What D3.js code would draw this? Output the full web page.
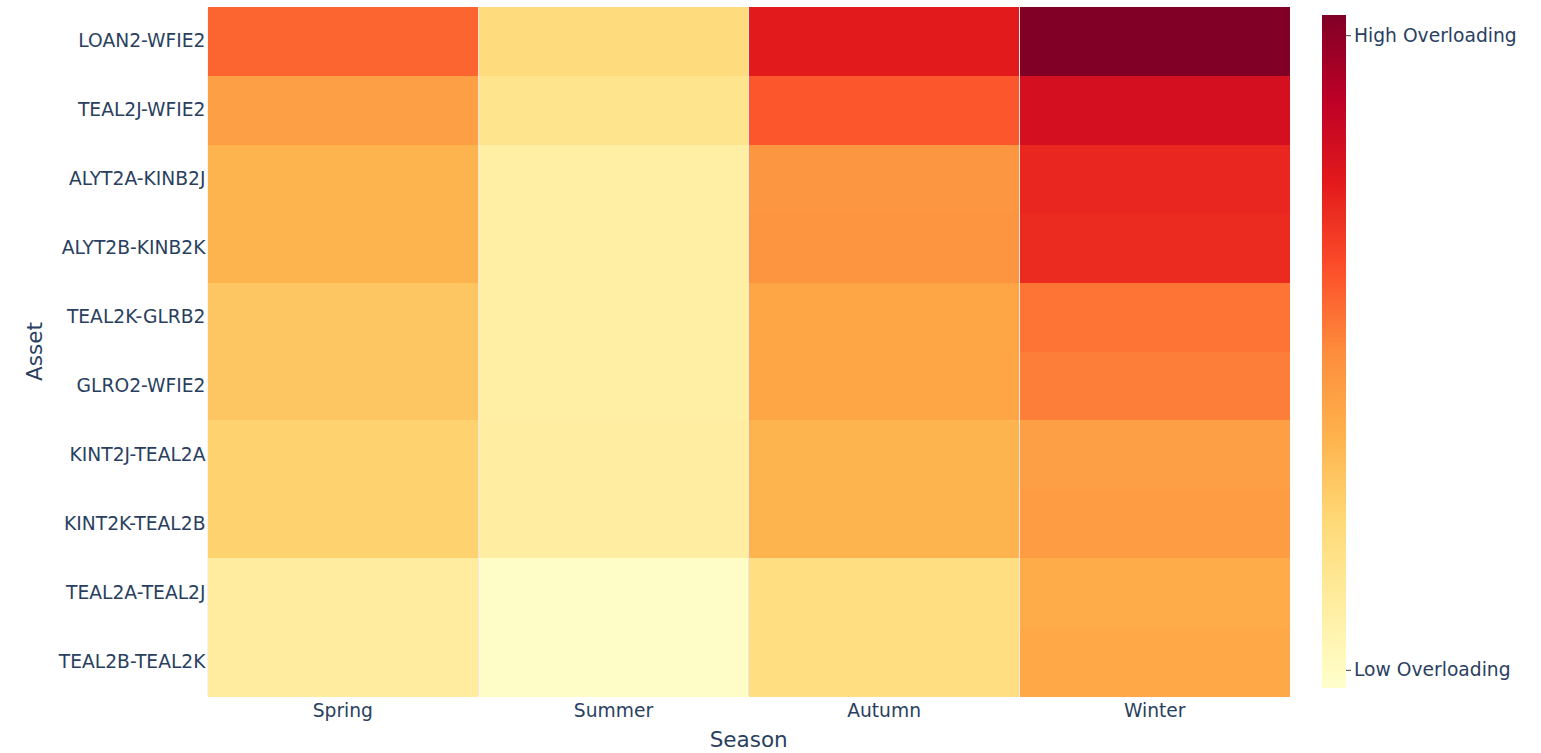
<!DOCTYPE html>
<html>
<head>
<meta charset="utf-8">
<script src="https://cdn.jsdelivr.net/npm/d3@7"></script>
<style>
  html, body { margin: 0; padding: 0; background: #fff; }
  svg { display: block; }
  svg text { font-family: "DejaVu Sans", Verdana, sans-serif; }
</style>
</head>
<body>
<svg id="chart" width="1541" height="753"></svg>
<script>
// Seasons along x, assets along y (top to bottom)
const seasons = ["Spring", "Summer", "Autumn", "Winter"];
const assets = [
  "LOAN2-WFIE2", "TEAL2J-WFIE2", "ALYT2A-KINB2J", "ALYT2B-KINB2K", "TEAL2K-GLRB2",
  "GLRO2-WFIE2", "KINT2J-TEAL2A", "KINT2K-TEAL2B", "TEAL2A-TEAL2J", "TEAL2B-TEAL2K"
];

// Normalised overloading level per asset, one array per season
const spring = [0.58, 0.44, 0.37, 0.37, 0.31, 0.31, 0.27, 0.27, 0.13, 0.13];
const summer = [0.23, 0.18, 0.11, 0.11, 0.11, 0.11, 0.12, 0.12, 0.015, 0.015];
const autumn = [0.75, 0.61, 0.47, 0.475, 0.42, 0.42, 0.37, 0.37, 0.22, 0.22];
const winter = [1.0, 0.80, 0.72, 0.71, 0.55, 0.53, 0.44, 0.45, 0.40, 0.41];

// Colour bar range and labelled ticks
const zRange = [0, 1];
const colorbarTickValues = [0.027, 0.97];
const colorbarTickLabels = ["Low Overloading", "High Overloading"];

// YlOrRd colour stops
const ylOrRd = [
  "rgb(255,255,204)", "rgb(255,237,160)", "rgb(254,217,118)", "rgb(254,178,76)",
  "rgb(253,141,60)", "rgb(252,78,42)", "rgb(227,26,28)", "rgb(189,0,38)", "rgb(128,0,38)"
];

const seriesBySeason = [spring, summer, autumn, winter];
const cells = [];
seasons.forEach((s, i) => {
  assets.forEach((a, j) => cells.push({ season: s, asset: a, value: seriesBySeason[i][j] }));
});

const svg = d3.select("#chart");
const textColor = "#2a3f5f";
const fontFamily = "'DejaVu Sans', Verdana, sans-serif";
const tickFont = "18.7px";
const titleFont = "21.5px";

const plot = { left: 207.5, right: 1290, top: 7, bottom: 696 };

const x = d3.scaleBand().domain(seasons).range([plot.left, plot.right]).padding(0);
const y = d3.scaleBand().domain(assets).range([plot.top, plot.bottom]).padding(0);

const stopPositions = ylOrRd.map((_, i) => zRange[0] + (zRange[1] - zRange[0]) * i / (ylOrRd.length - 1));
const color = d3.scaleLinear().domain(stopPositions).range(ylOrRd).interpolate(d3.interpolateRgb).clamp(true);

// Gap lines between season columns show through as a light background
svg.append("rect")
  .attr("x", plot.left).attr("y", plot.top)
  .attr("width", plot.right - plot.left).attr("height", plot.bottom - plot.top)
  .attr("fill", "#ebe8e2");

// Heatmap cells, with a 1px gap between season columns
const xgap = 1;
svg.append("g")
  .selectAll("rect")
  .data(cells)
  .join("rect")
  .attr("x", d => x(d.season) + xgap / 2)
  .attr("y", d => y(d.asset))
  .attr("width", x.bandwidth() - xgap)
  .attr("height", y.bandwidth() + 0.5)
  .attr("fill", d => color(d.value))
  .attr("shape-rendering", "crispEdges");

function styleTicks(g) {
  g.attr("font-family", fontFamily).attr("font-size", tickFont);
  g.select(".domain").remove();
  g.selectAll("text").attr("fill", textColor)
    .style("font-family", fontFamily).style("font-size", tickFont);
}

// x axis
svg.append("g")
  .attr("transform", `translate(0,${plot.bottom})`)
  .call(d3.axisBottom(x).tickSize(0).tickPadding(8))
  .call(styleTicks);

// y axis
svg.append("g")
  .attr("transform", `translate(${plot.left},0)`)
  .call(d3.axisLeft(y).tickSize(0).tickPadding(2))
  .call(styleTicks);

// Axis titles
svg.append("text")
  .attr("x", (plot.left + plot.right) / 2)
  .attr("y", 747)
  .attr("text-anchor", "middle")
  .attr("fill", textColor)
  .style("font-size", titleFont)
  .text("Season");

svg.append("text")
  .attr("transform", `translate(42,${(plot.top + plot.bottom) / 2}) rotate(-90)`)
  .attr("text-anchor", "middle")
  .attr("fill", textColor)
  .style("font-size", titleFont)
  .text("Asset");

// Colour bar
const cb = { x: 1322, width: 24, top: 15, bottom: 688 };
const defs = svg.append("defs");
const grad = defs.append("linearGradient")
  .attr("id", "cbGrad").attr("x1", 0).attr("y1", 1).attr("x2", 0).attr("y2", 0);
ylOrRd.forEach((c, i) => {
  grad.append("stop").attr("offset", i / (ylOrRd.length - 1)).attr("stop-color", c);
});
svg.append("rect")
  .attr("x", cb.x).attr("y", cb.top)
  .attr("width", cb.width).attr("height", cb.bottom - cb.top)
  .attr("fill", "url(#cbGrad)");

const zScale = d3.scaleLinear().domain(zRange).range([cb.bottom, cb.top]);
const cbAxis = svg.append("g")
  .attr("transform", `translate(${cb.x + cb.width},0)`)
  .call(d3.axisRight(zScale)
    .tickValues(colorbarTickValues)
    .tickFormat((d, i) => colorbarTickLabels[i])
    .tickSize(5).tickPadding(3))
  .call(styleTicks);
cbAxis.selectAll("line").attr("stroke", "#444").attr("stroke-width", 1);
</script>
</body>
</html>
